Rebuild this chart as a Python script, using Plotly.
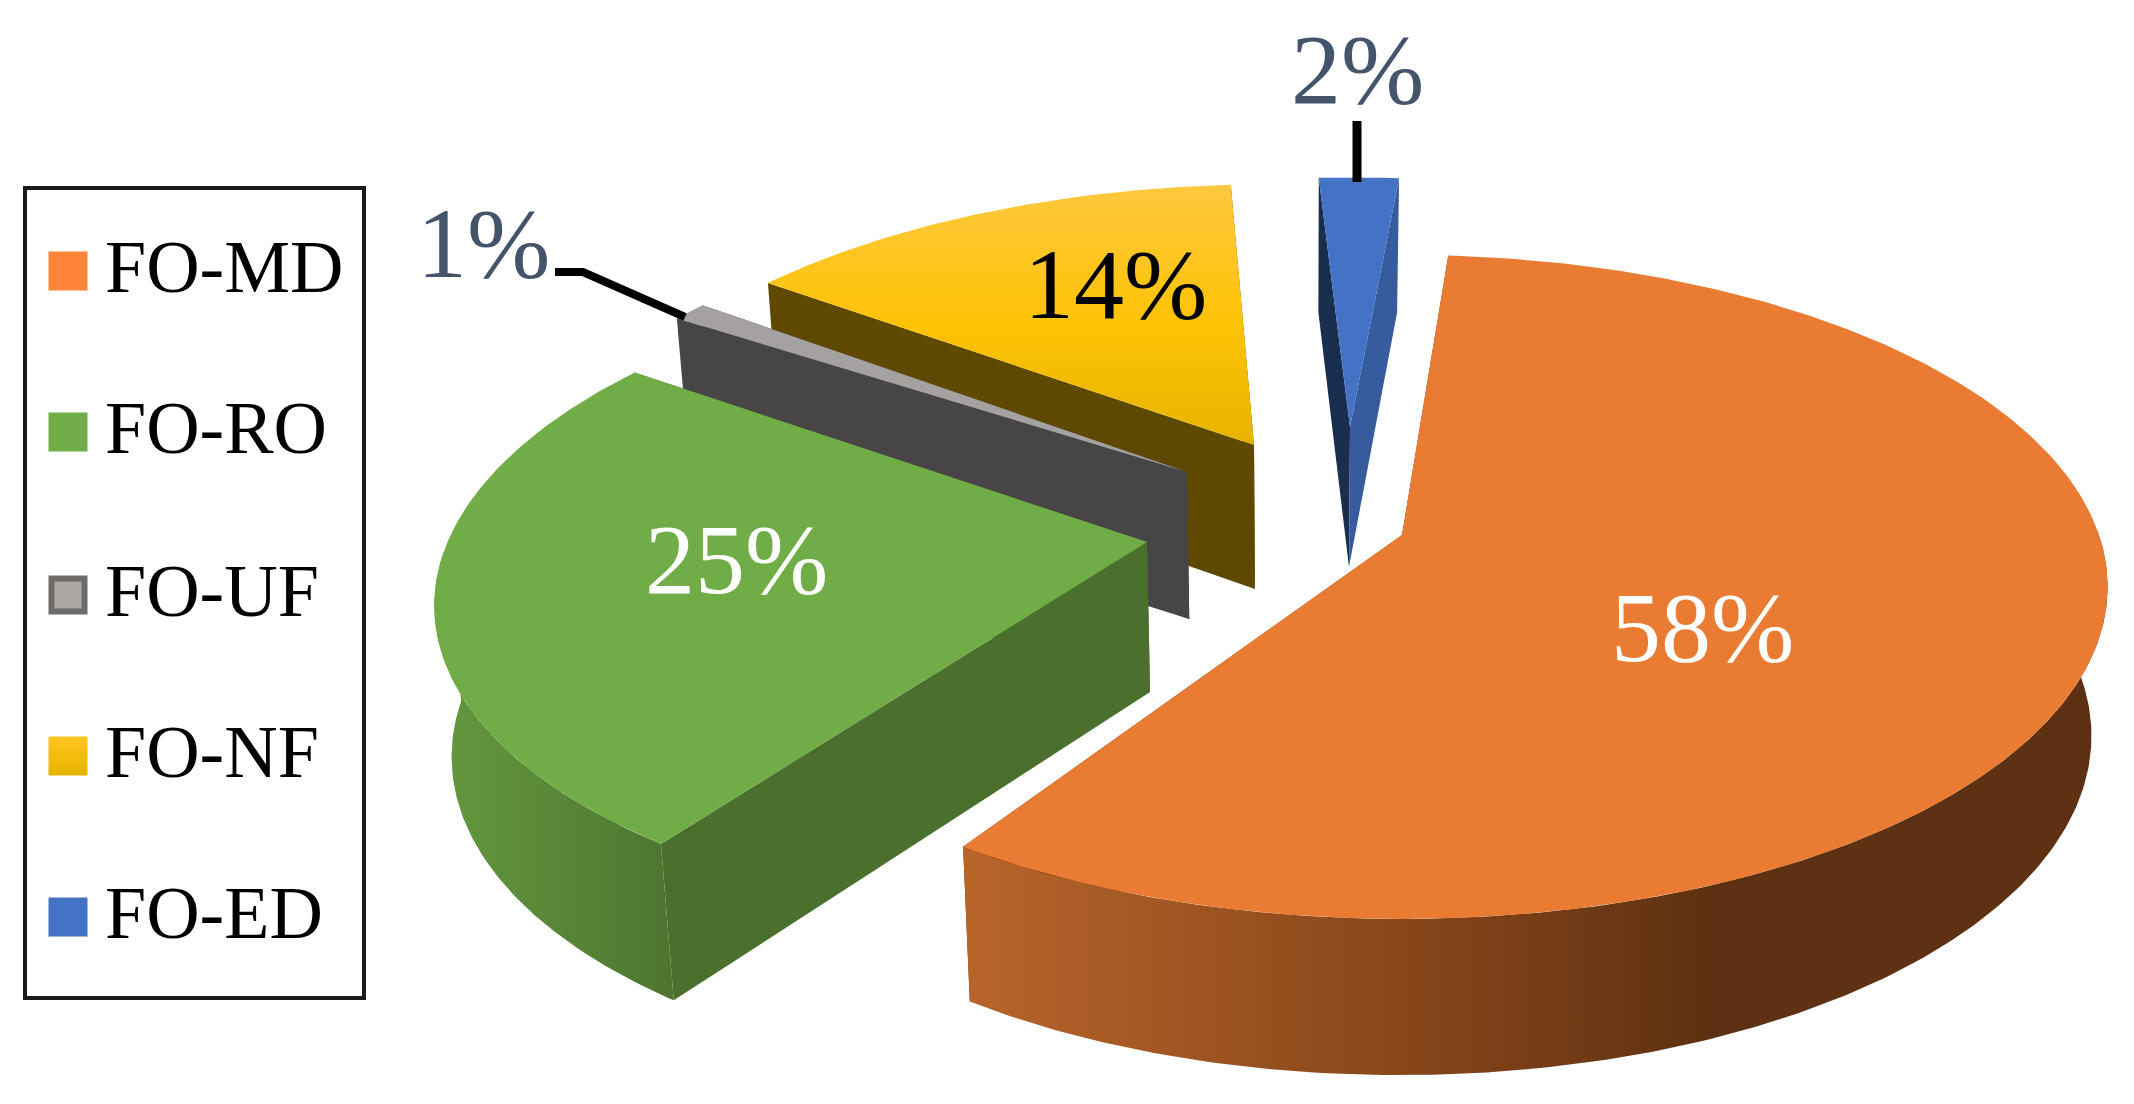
import math
import plotly.graph_objects as go

# ---- data ----
categories = ["FO-MD", "FO-RO", "FO-UF", "FO-NF", "FO-ED"]
values = [58, 25, 1, 14, 2]

# ---- layout / style ----
W, H = 2134, 1104
PAGE_MARGIN = 8         # default body margin of the page
FONT = "Liberation Serif"
ROTATION = 4.4          # start angle of first slice, clockwise from top
AX, BY, PERSP = 704, 324, 0.156
# exploded apex of each slice on the page
apex = {"FO-MD": (1402, 535), "FO-RO": (1147, 542), "FO-UF": (1187, 472),
        "FO-NF": (1254, 445), "FO-ED": (1350, 427)}
radius = {"FO-MD": (.99, 1), "FO-RO": (1.0, 1.0), "FO-UF": (.94, .94),
          "FO-NF": (.95, .93), "FO-ED": (1.05, .89)}
turn = {"FO-MD": 0, "FO-RO": 4, "FO-UF": 0, "FO-NF": 0.5, "FO-ED": 0}
tilt = {"FO-MD": 0, "FO-RO": -12, "FO-UF": 0, "FO-NF": -6, "FO-ED": 0}
depth = {"FO-MD": 148, "FO-RO": 150, "FO-UF": 147, "FO-NF": 144, "FO-ED": 140}
draw_order = ["FO-NF", "FO-ED", "FO-UF", "FO-RO", "FO-MD"]
top_color = {"FO-MD": "#E97B32", "FO-RO": "#70AD47", "FO-UF": "#A5A1A0",
             "FO-NF": None, "FO-ED": "#4472C4"}
cut_color = {"FO-MD": ("#5E3112", "#5E3112"), "FO-RO": ("#4B6F2D", "#4B6F2D"),
             "FO-UF": ("#474546", "#474546"), "FO-NF": ("#5F4900", "#5F4900"),
             "FO-ED": ("#1A2E50", "#365C9E")}
outer_scale = {
    "FO-MD": [[0, "#B8652A"], [.45, "#7F4118"], [.65, "#5E3112"], [1, "#5E3112"]],
    "FO-RO": [[0, "#64993E"], [1, "#4E7530"]],
}
nf_top_scale = [[0, "#E6B400"], [.45, "#FDC304"], [1, "#FFC83F"]]
label_pos = {"FO-MD": (1702, 627), "FO-RO": (736, 559), "FO-UF": (483, 243),
             "FO-NF": (1115, 284), "FO-ED": (1357, 69)}
label_color = {"FO-MD": "white", "FO-RO": "white", "FO-UF": "#44546A",
               "FO-NF": "black", "FO-ED": "#44546A"}
leaders = {"FO-UF": ([555, 583, 685], [272, 272, 317], 8),
           "FO-ED": ([1357, 1357], [121, 182], 9)}
legend_y = [271, 432, 595, 756, 917]
legend_text_dy = -4
legend_swatch = {"FO-MD": "#FF8638", "FO-RO": "#70AD47", "FO-UF": "#ACA8A6",
                 "FO-NF": "#FFC61E", "FO-ED": "#4472C4"}

fig = go.Figure()


def fy(py):
    return H - py


def project(name, theta):
    """Point on the rim of a slice, in page pixels."""
    X, Y = math.sin(math.radians(theta)), -math.cos(math.radians(theta))
    s = 1 / (1 - PERSP * Y)
    ax, ay = apex[name]
    rx, ry = radius[name]
    return ax + AX * rx * X * s, ay + BY * ry * Y * s + tilt[name] * X, s


def down(name, px, py, s):
    """Drop a top-surface point to the bottom of the slab."""
    d = depth[name] * (1 + 0.3 * (s - 1))
    return px + 0.02 * (1300 - px), py + d


def poly(xs, ys, color=None, scale=None, vertical=False):
    kw = dict(x=xs, y=[fy(v) for v in ys], mode="lines", fill="toself",
              line=dict(width=0), hoverinfo="skip", showlegend=False)
    if scale:
        kw["fillgradient"] = dict(type="vertical" if vertical else "horizontal",
                                  colorscale=scale)
        kw["fillcolor"] = scale[0][1]
    else:
        kw["fillcolor"] = color
    fig.add_trace(go.Scatter(**kw))


# angular extents derived from the values
total = sum(values)
span = {}
a0 = ROTATION
for c, v in zip(categories, values):
    span[c] = (a0 + turn[c], a0 + turn[c] + 360 * v / total)
    a0 += 360 * v / total

for name in draw_order:
    t0, t1 = span[name]
    n = max(4, int((t1 - t0) * 1.5))
    thetas = [t0 + (t1 - t0) * i / n for i in range(n + 1)]
    rim = [project(name, t) for t in thetas]
    ax, ay = apex[name]
    bot = [down(name, *p) for p in rim]
    abot = down(name, ax, ay, 1)

    # the two cut walls
    for p, b, col in ((rim[0], bot[0], cut_color[name][0]),
                      (rim[-1], bot[-1], cut_color[name][1])):
        poly([ax, p[0], b[0], abot[0], ax], [ay, p[1], b[1], abot[1], ay], color=col)
    # outer curved wall (only the part facing the viewer)
    vis = [i for i, t in enumerate(thetas) if -math.cos(math.radians(t)) > -0.02]
    if vis and name in outer_scale:
        poly([rim[i][0] for i in vis] + [bot[i][0] for i in reversed(vis)],
             [rim[i][1] for i in vis] + [bot[i][1] for i in reversed(vis)],
             scale=outer_scale[name])
    # top surface
    xs = [ax] + [p[0] for p in rim] + [ax]
    ys = [ay] + [p[1] for p in rim] + [ay]
    if name == "FO-NF":
        poly(xs, ys, scale=nf_top_scale, vertical=True)
    else:
        poly(xs, ys, color=top_color[name])

# leader lines
for name, (lx, ly, w) in leaders.items():
    fig.add_trace(go.Scatter(x=lx, y=[fy(v) for v in ly], mode="lines",
                             line=dict(color="black", width=w), hoverinfo="skip",
                             showlegend=False))

annotations = []
# data labels
for c, v in zip(categories, values):
    lx, ly = label_pos[c]
    annotations.append(dict(x=lx, y=fy(ly), text=f"{v}%", showarrow=False,
                            xanchor="center", yanchor="middle",
                            font=dict(family=FONT, size=100, color=label_color[c])))

# legend box
shapes = [dict(type="rect", x0=25, x1=364, y0=fy(188), y1=fy(998),
               line=dict(color="#1a1a1a", width=4), fillcolor="white", layer="below")]
for c, ly in zip(categories, legend_y):
    is_uf = c == "FO-UF"
    marker = dict(symbol="square", size=33 if is_uf else 39, color=legend_swatch[c],
                  line=dict(color="#6E6A68" if is_uf else legend_swatch[c],
                            width=6 if is_uf else 0))
    if c == "FO-NF":
        marker["gradient"] = dict(type="vertical", color="#E6B400")
    fig.add_trace(go.Scatter(x=[68], y=[fy(ly)], mode="markers", marker=marker,
                             hoverinfo="skip", showlegend=False))
    annotations.append(dict(x=103, y=fy(ly + legend_text_dy), text=c, showarrow=False,
                            xanchor="left", yanchor="middle",
                            font=dict(family=FONT, size=74, color="black")))

fig.update_layout(
    width=W - 2 * PAGE_MARGIN, height=H - 2 * PAGE_MARGIN,
    margin=dict(l=0, r=0, t=0, b=0),
    paper_bgcolor="white", plot_bgcolor="white",
    xaxis=dict(range=[PAGE_MARGIN, W - PAGE_MARGIN], visible=False, fixedrange=True),
    yaxis=dict(range=[PAGE_MARGIN, H - PAGE_MARGIN], visible=False, fixedrange=True),
    shapes=shapes, annotations=annotations, showlegend=False,
)
fig.write_html("out.html")
